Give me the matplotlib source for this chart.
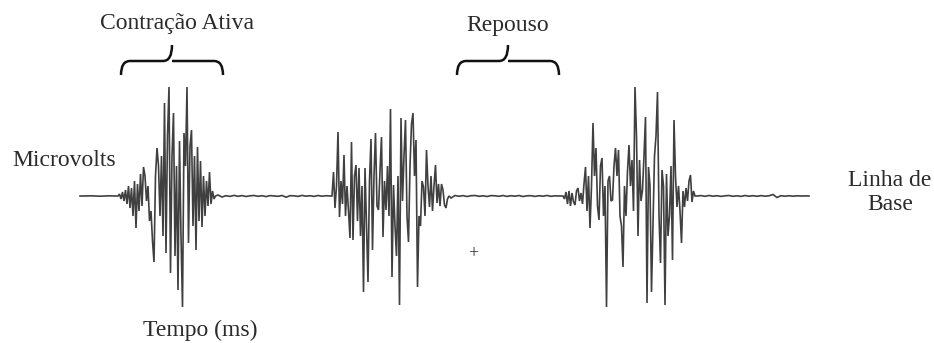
#!/usr/bin/env python3
"""EMG trace: active contraction vs rest, with baseline annotation."""
import matplotlib
matplotlib.use("Agg")
import matplotlib.pyplot as plt
import numpy as np
from matplotlib.path import Path
from matplotlib.patches import PathPatch

# Signal segments: (start time in ms, sample step in ms, amplitude in microvolts)
BASE_A_START, BASE_A_STEP = 80.0, 5.0
BASE_A_UV = [0, 0, 0.2, 0, -0.2, 0, 0.2, 0]

BURST1_START, BURST1_STEP = 118.0, 1.5
BURST1_UV = [0, 2, -3, 4, -5, 6, -8, 10, -12, 8, -20, 15, -32, 12, -15, 22,
             -10, 29, 20, -5, 10, -25, -15, -45, -66, 20, 48, 30, -20, 40,
             -40, 93, -57, 60, 109, -77, 40, 83, -60, 30, -94, 55, -40, -111,
             63, 30, 109, -47, 50, 66, -30, 40, -54, 49, -25, 35, -31, 20,
             -20, 15, -10, 24, -8, 5, -3, 0]

BASE_B_START, BASE_B_STEP = 218.0, 4.0
BASE_B_UV = [1, -1, 0.3, -0.4, 0.6, -0.3, 0.4, -0.5, 0.2, 0.5, -0.3, 0.3,
             -0.6, 0.4, 0, -0.3, 0.5, -1.2, 0.3, 0.2, -0.4, 0.6, -0.2, 0.3,
             -0.4, 0.5, -0.2, 0.3, 0]

BURST2_START, BURST2_STEP = 332.0, 1.5
BURST2_UV = [0, 24, -12, 10, 64, -21, 15, -8, 41, -20, 10, -15, -42, 54, -44,
             20, 31, -25, 28, -40, 10, -96, 28, -30, -86, 15, 57, -54, 20, 63,
             -10, -14, 25, 59, -41, 15, -14, 30, -20, 87, -81, 11, -30, -60,
             20, -109, 78, -5, 40, 76, -20, -46, 30, 72, 83, 20, 56, -91, -20,
             -30, 15, 9, -20, 46, 10, -11, 20, -15, 10, 31, -7, 12, -10, 12,
             6, -9, -12, -3, 0]

BASE_C_START, BASE_C_STEP = 451.0, 4.0
BASE_C_UV = [-2, 0.5, -0.3, 0.4, -0.5, 0.3, 0.5, -0.3, 0.2, -0.5, 0.4, 0.2,
             -0.3, 0.5, -0.4, 0.3, -0.2, 0.5, -0.5, 0.2, 0.3, -0.4, 0.3,
             -0.2, 0.5, -0.3, 0.2, 0]

BURST3_START, BURST3_STEP = 563.0, 1.5
BURST3_UV = [0, -3, 4, -8, 5, -10, 3, -6, -9, 5, 8, -5, 3, -8, 12, 29, -15,
             20, -32, 10, 73, 20, 48, -10, -24, 30, 38, -20, 10, -111, 15, 20,
             -5, -4, 30, 48, 20, 46, -20, -30, -71, 10, -20, 25, 51, 10, 36,
             -15, 109, 60, -40, 36, -5, 6, 40, 79, -107, 29, 10, -96, -30, 40,
             60, 104, -20, -67, 26, 10, -109, 22, -40, -20, 30, -64, 76, 20,
             -11, 10, -15, -47, 5, -11, 8, -5, 15, 21, -6, 5, 0]

BASE_D_START, BASE_D_STEP = 697.0, 4.0
BASE_D_UV = [0, 0.4, -0.3, 0.5, -0.2, 0.3, -0.4, 0.2, 0.5, -0.3, 0.2, -0.4,
             0.5, -0.2, 0.3, -0.3, 0.4, -0.2, 0.2, 1.5, -1.5, 0.3, -0.2, 0.3,
             -0.2, 0.2, 0, 0.1, 0]

SEGMENTS = [
    (BASE_A_START, BASE_A_STEP, BASE_A_UV),
    (BURST1_START, BURST1_STEP, BURST1_UV),
    (BASE_B_START, BASE_B_STEP, BASE_B_UV),
    (BURST2_START, BURST2_STEP, BURST2_UV),
    (BASE_C_START, BASE_C_STEP, BASE_C_UV),
    (BURST3_START, BURST3_STEP, BURST3_UV),
    (BASE_D_START, BASE_D_STEP, BASE_D_UV),
]

# Bracket spans (ms) over the trace
BRACE_CONTRACTION = (121.0, 223.0)
BRACE_REST = (457.0, 559.0)

TEXT_COLOR = "#2b2b2b"
SERIF = ["Liberation Serif", "DejaVu Serif"]


def draw_brace(ax, x0, x1, y_end, y_bar, y_tip, r=9.0):
    xm = 0.5 * (x0 + x1)
    verts = [
        (x0, y_end), (x0, y_bar), (x0 + r, y_bar),
        (xm - r, y_bar),
        (xm, y_bar), (xm, y_tip),
        (xm, y_bar), (xm + r, y_bar),
        (x1 - r, y_bar),
        (x1, y_bar), (x1, y_end),
    ]
    codes = [Path.MOVETO, Path.CURVE3, Path.CURVE3, Path.LINETO,
             Path.CURVE3, Path.CURVE3, Path.MOVETO, Path.CURVE3,
             Path.LINETO, Path.CURVE3, Path.CURVE3]
    ax.add_patch(PathPatch(Path(verts, codes), fill=False,
                           lw=1.8, color="#111111", capstyle="butt"))


def main():
    t_all, v_all = [], []
    for start, step, vals in SEGMENTS:
        vals = np.asarray(vals, dtype=float)
        t_all.append(start + step * np.arange(len(vals)))
        v_all.append(vals)
    t = np.concatenate(t_all)
    v = np.concatenate(v_all)

    fig = plt.figure(figsize=(9.34, 3.43), dpi=100)
    ax = fig.add_axes([0, 0, 1, 1])
    ax.plot(t, v, color="#404040", lw=1.2, solid_joinstyle="miter")
    ax.set_xlim(0, 934)
    ax.set_ylim(-147, 196)
    ax.set_axis_off()

    draw_brace(ax, *BRACE_CONTRACTION, y_end=121, y_bar=135, y_tip=151)
    draw_brace(ax, *BRACE_REST, y_end=121, y_bar=135, y_tip=151)

    kw = dict(family=SERIF, fontsize=17, color=TEXT_COLOR)
    ax.text(177, 173, "Contração Ativa", ha="center", va="center", **kw)
    ax.text(508, 170, "Repouso", ha="center", va="center", **kw)
    ax.text(12, 35, "Microvolts", ha="left", va="center", **kw)
    ax.text(890, 16, "Linha de", ha="center", va="center", **kw)
    ax.text(890, -9, "Base", ha="center", va="center", **kw)
    ax.text(200, -134, "Tempo (ms)", ha="center", va="center", **kw)
    ax.text(473, -58, "+", ha="center", va="center", family=SERIF,
            fontsize=13, color=TEXT_COLOR)

    fig.savefig("out.png", dpi=100)
    plt.close(fig)


if __name__ == "__main__":
    main()
